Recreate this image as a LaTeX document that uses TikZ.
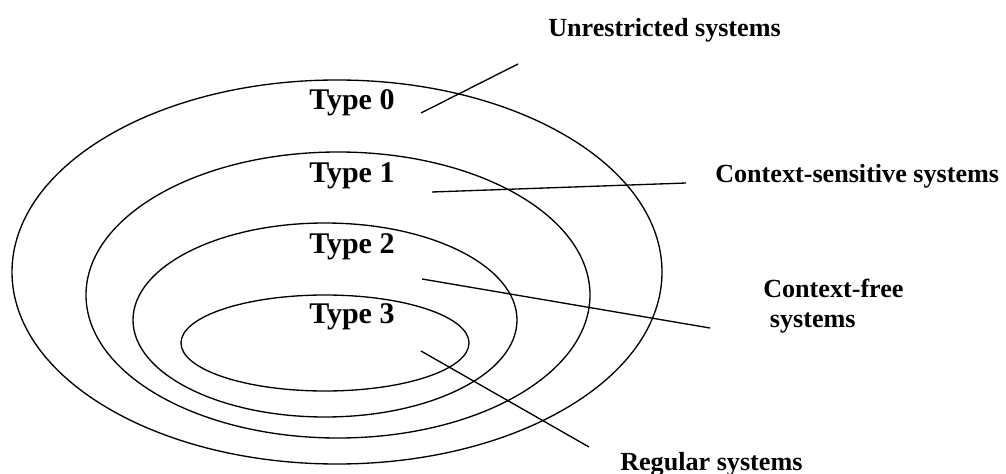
\documentclass[tikz,border=0pt]{standalone}
\usepackage{fontspec}
\setmainfont{Liberation Serif}
\begin{document}
\begin{tikzpicture}[x=0.75pt,y=-0.75pt,
  ring/.style={draw=black,line width=1pt},
  leader/.style={draw=black,line width=1pt},
  typelabel/.style={anchor=base west,inner sep=0pt,font=\fontsize{22.5}{27}\selectfont\bfseries},
  syslabel/.style={anchor=base west,inner sep=0pt,align=left,font=\fontsize{19.6}{22.5}\selectfont\bfseries}]
\useasboundingbox (0,0) rectangle (1006,474);
% nested ellipses
\draw[ring] (337,272) ellipse [x radius=243.75pt, y radius=144pt];
\draw[ring] (338,295) ellipse [x radius=189pt, y radius=107.25pt];
\draw[ring] (325,320) ellipse [x radius=144pt, y radius=72.75pt];
\draw[ring] (325,343) ellipse [x radius=108pt, y radius=36pt];
% type labels
\node[typelabel] (t0) at (309,110) {Type 0};
\node[typelabel] (t1) at (309,182) {Type 1};
\node[typelabel] (t2) at (309,253) {Type 2};
\node[typelabel] (t3) at (309,323) {Type 3};
% system labels
\node[syslabel] (unr) at (548,37) {Unrestricted systems};
\node[syslabel] (cs) at (715,183) {Context-sensitive systems};
\node[syslabel] (cf) at (763,327) {Context-free\\\hspace*{5pt}systems};
\node[syslabel] (reg) at (620,470) {Regular systems};
% leader line end points
\coordinate (a0) at (421,113);
\coordinate (b0) at (518,64);
\coordinate (a1) at (432,192);
\coordinate (b1) at (686,183);
\coordinate (a2) at (422,279);
\coordinate (b2) at (710,328);
\coordinate (a3) at (421,351);
\coordinate (b3) at (589,447);
\draw[leader] (a0) -- (b0);
\draw[leader] (a1) -- (b1);
\draw[leader] (a2) -- (b2);
\draw[leader] (a3) -- (b3);
\end{tikzpicture}
\end{document}
